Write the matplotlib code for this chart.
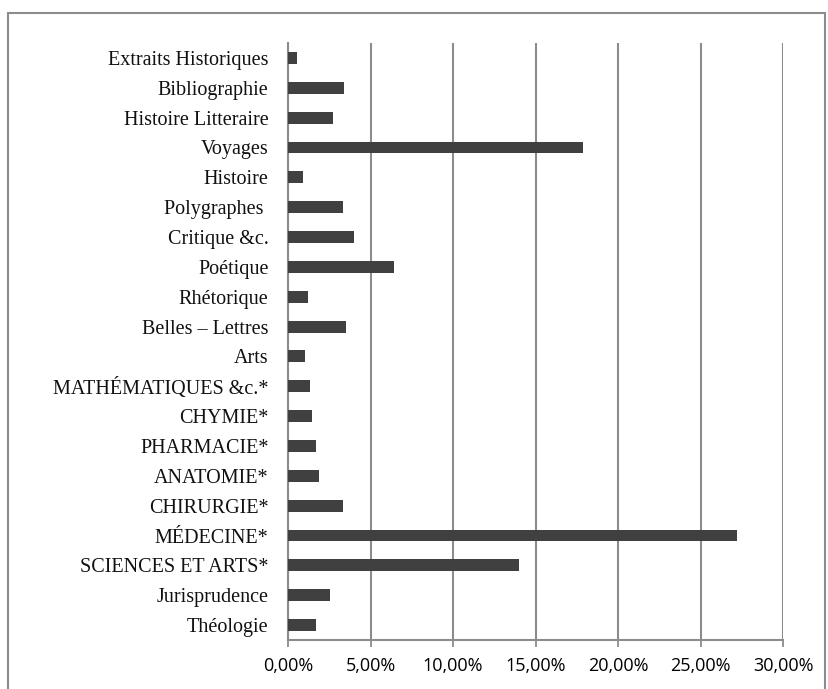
# horizontal bar chart, share of titles per class
import matplotlib.pyplot as plt
from matplotlib.patches import Rectangle
from matplotlib.ticker import FuncFormatter

categories = ["Théologie", "Jurisprudence", "SCIENCES ET ARTS*", "MÉDECINE*", "CHIRURGIE*",
              "ANATOMIE*", "PHARMACIE*", "CHYMIE*", "MATHÉMATIQUES &c.*", "Arts",
              "Belles – Lettres", "Rhétorique", "Poétique", "Critique &c.", "Polygraphes ",
              "Histoire", "Voyages", "Histoire Litteraire", "Bibliographie", "Extraits Historiques"]
values = [1.72, 2.53, 14.0, 27.2, 3.33,
          1.90, 1.72, 1.46, 1.36, 1.01,
          3.52, 1.19, 6.41, 4.02, 3.33,
          0.91, 17.85, 2.73, 3.42, 0.55]
xticks = [0, 5, 10, 15, 20, 25, 30]

fig = plt.figure(figsize=(8.29, 6.89), dpi=100)
ax = fig.add_axes([288 / 829, 1 - 640 / 689, (783.3 - 288) / 829, (640 - 43) / 689])

y = range(len(categories))
ax.barh(y, values, height=0.4, color="#404040", zorder=3)

ax.set_xlim(0, 30)
ax.set_ylim(-0.5, len(categories) - 0.5)
ax.set_xticks(xticks)
ax.xaxis.set_major_formatter(FuncFormatter(lambda v, p: f"{v:.2f}%".replace(".", ",")))
ax.set_yticks(list(y))
ax.set_yticklabels(categories, family="Liberation Serif", fontsize=14.5, color="#111111")
ax.tick_params(axis="y", length=0, pad=14)
ax.tick_params(axis="x", length=5, width=1.3, color="#8c8c8c", labelsize=13, pad=7)
for lab in ax.get_xticklabels():
    lab.set_family("Open Sans")

ax.grid(axis="x", color="#8c8c8c", linewidth=1.5, zorder=0)
for s in ["top", "right"]:
    ax.spines[s].set_visible(False)
ax.spines["left"].set_color("#8c8c8c")
ax.spines["left"].set_linewidth(1.5)
ax.spines["bottom"].set_color("#8c8c8c")
ax.spines["bottom"].set_linewidth(1.5)

# outer frame
fig.patches.append(Rectangle((8 / 829, -0.05), (825 - 8) / 829, 1.05 - 13 / 689,
                             transform=fig.transFigure, fill=False,
                             edgecolor="#8c8c8c", linewidth=1.5))

plt.savefig("out.png", dpi=100)
